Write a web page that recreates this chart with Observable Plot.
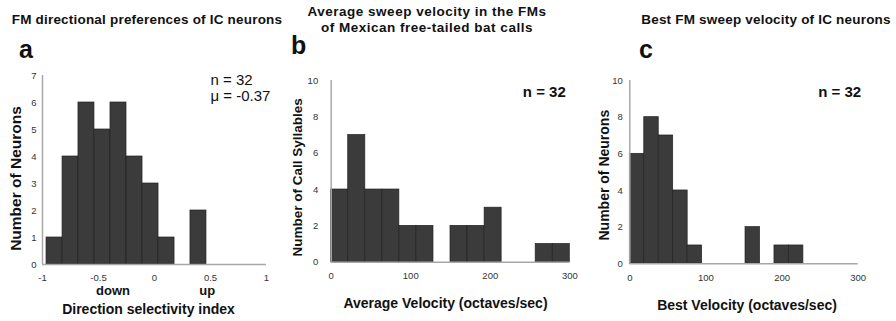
<!DOCTYPE html>
<html>
<head>
<meta charset="utf-8">
<script src="https://cdn.jsdelivr.net/npm/d3@7"></script>
<script src="https://cdn.jsdelivr.net/npm/@observablehq/plot@0.6"></script>
<style>
  html, body { margin: 0; padding: 0; background: #fff; }
  #wrap { position: relative; width: 896px; height: 321px; overflow: hidden; font-family: "Liberation Sans", Arial, Helvetica, sans-serif; }
  .panel { position: absolute; top: 0; }
  .title { position: absolute; font-weight: bold; font-size: 13.5px; letter-spacing: 0.2px; color: #111; text-align: center; white-space: nowrap; line-height: 16px; }
  .letter { position: absolute; font-weight: bold; font-size: 25px; color: #111; line-height: 1; }
</style>
</head>
<body>
<div id="wrap">
  <div class="title" style="left:0px; top:12px; width:294px;">FM directional preferences of IC neurons</div>
  <div class="title" style="left:300px; top:4px; width:254px; letter-spacing:0.5px;">Average sweep velocity in the FMs<br>of Mexican free-tailed bat calls</div>
  <div class="title" style="left:636px; top:12px; width:260px;">Best FM sweep velocity of IC neurons</div>
  <div class="letter" style="left:19px; top:37px;">a</div>
  <div class="letter" style="left:291px; top:33px;">b</div>
  <div class="letter" style="left:639px; top:37px;">c</div>
  <div class="panel" id="pa" style="left:0px;"></div>
  <div class="panel" id="pb" style="left:290px;"></div>
  <div class="panel" id="pc" style="left:590px;"></div>
</div>
<script>
// Panel a: direction selectivity index histogram
const aEdges = [-0.964, -0.821, -0.679, -0.536, -0.393, -0.25, -0.107, 0.036, 0.179, 0.321, 0.464];
const aCounts = [1, 4, 6, 5, 6, 4, 3, 1, 0, 2];
const aXTicks = [-1, -0.5, 0, 0.5, 1];
const aYTicks = [0, 1, 2, 3, 4, 5, 6, 7];
const aDirLabels = ["down", "up"];
const aDirPos = [-0.37, 0.47];

// Panel b: average sweep velocity of calls
const bEdges = [0, 21.4, 42.9, 64.3, 85.7, 107.1, 128.6, 150, 171.4, 192.9, 214.3, 235.7, 257.1, 278.6, 300];
const bCounts = [4, 7, 4, 4, 2, 2, 0, 2, 2, 3, 0, 0, 1, 1];
const bXTicks = [0, 100, 200, 300];
const bYTicks = [0, 2, 4, 6, 8, 10];

// Panel c: best sweep velocity of neurons
const cEdges = [0, 19, 38, 57, 76, 95, 114, 133, 152, 171, 190, 209, 228];
const cCounts = [6, 8, 7, 4, 1, 0, 0, 0, 2, 0, 1, 1];
const cXTicks = [0, 100, 200, 300];
const cYTicks = [0, 2, 4, 6, 8, 10];

const FONT = "'Liberation Sans', Arial, Helvetica, sans-serif";
const BAR_FILL = "#3b3b3b";
const BAR_STROKE = "#222";
const AXIS_GREY = "#a8a8a8";

function toBins(edges, counts) {
  return counts.map((c, i) => ({x1: edges[i], x2: edges[i + 1], y: c})).filter(d => d.y > 0);
}

function panel(opts) {
  const marks = [
    Plot.rectY(toBins(opts.edges, opts.counts), {x1: "x1", x2: "x2", y1: 0, y2: "y", fill: BAR_FILL, stroke: BAR_STROKE, strokeWidth: 0.7}),
    Plot.ruleY([opts.yDomain[0]], {stroke: AXIS_GREY, strokeWidth: 1.5}),
    Plot.ruleX([opts.xDomain[0]], {stroke: AXIS_GREY, strokeWidth: 1.5}),
    Plot.axisX({ticks: opts.xTicks, tickSize: 0, tickPadding: 10, label: null, fontSize: 9.5, fill: "#333", tickFormat: d => String(d)}),
    Plot.axisY({ticks: opts.yTicks, tickSize: 0, tickPadding: opts.yPad, label: null, fontSize: 9.5, fill: "#333", tickFormat: d => String(d)}),
    Plot.text([opts.xLabel], {frameAnchor: "bottom", dx: opts.xLabelDx, dy: opts.xLabelDy, fontWeight: "bold", fontSize: 14, fill: "#111", lineAnchor: "bottom"}),
    Plot.text([opts.yLabel], {frameAnchor: "left", textAnchor: "middle", dx: opts.yLabelDx, dy: opts.yLabelDy, rotate: -90, fontWeight: "bold", fontSize: opts.yLabelSize, fill: "#111"}),
    ...opts.extra
  ];
  return Plot.plot({
    width: opts.width, height: 321,
    marginLeft: opts.ml, marginRight: opts.mr, marginTop: opts.mt, marginBottom: opts.mb,
    x: {domain: opts.xDomain},
    y: {domain: opts.yDomain},
    style: {fontFamily: FONT, fontSize: "9.5px", background: "transparent", overflow: "visible"},
    marks
  });
}

document.getElementById("pa").append(panel({
  width: 290, ml: 42, mr: 24, mt: 75, mb: 57,
  edges: aEdges, counts: aCounts, xDomain: [-1, 1], yDomain: [0, 7],
  xTicks: aXTicks, yTicks: aYTicks, yPad: 6,
  xLabel: "Direction selectivity index", xLabelDx: -6, xLabelDy: 49,
  yLabel: "Number of Neurons", yLabelDx: -26, yLabelDy: 8.5, yLabelSize: 15.5,
  extra: [
    Plot.text(aDirLabels, {x: (d, i) => aDirPos[i], frameAnchor: "bottom", dy: 30, fontWeight: "bold", fontSize: 13, fill: "#111", lineAnchor: "bottom"}),
    Plot.text(["n = 32\nμ = -0.37"], {frameAnchor: "top-left", dx: 168, dy: -2, textAnchor: "start", lineAnchor: "top", fontSize: 15, lineHeight: 1.07, fill: "#111"})
  ]
}));

document.getElementById("pb").append(panel({
  width: 300, ml: 40.7, mr: 20.7, mt: 80, mb: 59.3,
  edges: bEdges, counts: bCounts, xDomain: [0, 300], yDomain: [0, 10],
  xTicks: bXTicks, yTicks: bYTicks, yPad: 13,
  xLabel: "Average Velocity (octaves/sec)", xLabelDx: -5, xLabelDy: 46,
  yLabel: "Number of Call Syllables", yLabelDx: -34, yLabelDy: 6, yLabelSize: 13.5,
  extra: [
    Plot.text(["n = 32"], {frameAnchor: "top-right", dx: -4, dy: 6, textAnchor: "end", lineAnchor: "top", fontSize: 15, fontWeight: "bold", fill: "#111"})
  ]
}));

document.getElementById("pc").append(panel({
  width: 306, ml: 39.3, mr: 38.3, mt: 80, mb: 57.7,
  edges: cEdges, counts: cCounts, xDomain: [0, 300], yDomain: [0, 10],
  xTicks: cXTicks, yTicks: cYTicks, yPad: 7,
  xLabel: "Best Velocity (octaves/sec)", xLabelDx: 3, xLabelDy: 46,
  yLabel: "Number of Neurons", yLabelDx: -25, yLabelDy: 3, yLabelSize: 14,
  extra: [
    Plot.text(["n = 32"], {frameAnchor: "top-right", dx: 3, dy: 6, textAnchor: "end", lineAnchor: "top", fontSize: 15, fontWeight: "bold", fill: "#111"})
  ]
}));
</script>
</body>
</html>
